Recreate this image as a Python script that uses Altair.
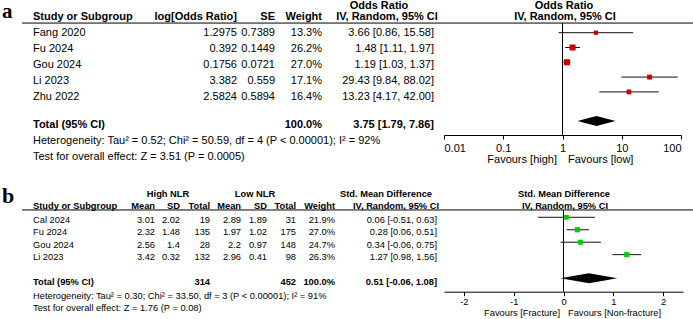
import altair as alt
import pandas as pd

FONT = "Liberation Sans"

# ---- Panel a: NLR and fracture risk (odds ratio, random effects) ----
a_study = ["Fang 2020", "Fu 2024", "Gou 2024", "Li 2023", "Zhu 2022"]
a_log_or = [1.2975, 0.392, 0.1756, 3.382, 2.5824]
a_se = [0.7389, 0.1449, 0.0721, 0.559, 0.5894]
a_weight = [13.3, 26.2, 27.0, 17.1, 16.4]
a_or = [3.66, 1.48, 1.19, 29.43, 13.23]
a_lo = [0.86, 1.11, 1.03, 9.84, 4.17]
a_hi = [15.58, 1.97, 1.37, 88.02, 42.00]
a_total = [3.75, 1.79, 7.86]
a_total_weight = 100.0
a_het = "Heterogeneity: Tau² = 0.52; Chi² = 50.59, df = 4 (P < 0.00001); I² = 92%"
a_test = "Test for overall effect: Z = 3.51 (P = 0.0005)"
a_ticks = [0.01, 0.1, 1, 10, 100]
a_favours = ["Favours [high]", "Favours [low]"]

# ---- Panel b: NLR in fracture vs non-fracture (SMD, random effects) ----
b_study = ["Cal 2024", "Fu 2024", "Gou 2024", "Li 2023"]
b_high_mean = [3.01, 2.32, 2.56, 3.42]
b_high_sd = [2.02, 1.48, 1.4, 0.32]
b_high_n = [19, 135, 28, 132]
b_low_mean = [2.89, 1.97, 2.2, 2.96]
b_low_sd = [1.89, 1.02, 0.97, 0.41]
b_low_n = [31, 175, 148, 98]
b_weight = [21.9, 27.0, 24.7, 26.3]
b_smd = [0.06, 0.28, 0.34, 1.27]
b_lo = [-0.51, 0.06, -0.06, 0.98]
b_hi = [0.63, 0.51, 0.75, 1.56]
b_total = [0.51, -0.06, 1.08]
b_total_n = [314, 452]
b_total_weight = 100.0
b_het = "Heterogeneity: Tau² = 0.30; Chi² = 33.50, df = 3 (P < 0.00001); I² = 91%"
b_test = "Test for overall effect: Z = 1.76 (P = 0.08)"
b_ticks = [-2, -1, 0, 1, 2]
b_favours = ["Favours [Fracture]", "Favours [Non-fracture]"]


def ci_label(est, lo, hi):
    return f"{est:.2f} [{lo:.2f}, {hi:.2f}]"


def num(v):
    return f"{v:g}"


def text_layer(rows, texts, x, align, yscale, size, bold=False):
    df = pd.DataFrame({"row": rows, "label": texts})
    return alt.Chart(df).mark_text(
        align=align, baseline="middle", font=FONT, fontSize=size,
        fontWeight="bold" if bold else "normal", color="#000000",
    ).encode(
        x=alt.value(x),
        y=alt.Y("row:Q", scale=yscale, axis=None),
        text="label:N",
    )


def header_rule(row, yscale):
    return alt.Chart(pd.DataFrame({"row": [row]})).mark_rule(
        color="#000000", strokeWidth=1
    ).encode(
        x=alt.value(22), x2=alt.value(693),
        y=alt.Y("row:Q", scale=yscale, axis=None),
    )


def forest(est, lo, hi, weight, total, color, xs, xa, ys, ss,
           ref, ref_top, ref_bottom, dia_row, dia_half):
    rows = list(range(len(est)))
    df = pd.DataFrame({"row": rows, "est": est, "lo": lo, "hi": hi, "w": weight})
    ref_line = alt.Chart(pd.DataFrame({"k": [0]})).mark_rule(
        color="#000000", strokeWidth=1
    ).encode(
        x=alt.XDatum(ref, type="quantitative", scale=xs, axis=xa),
        y=alt.YDatum(ref_top, type="quantitative", scale=ys, axis=None),
        y2=alt.Y2Datum(ref_bottom),
    )
    ci = alt.Chart(df).mark_rule(color="#111111", strokeWidth=1).encode(
        x=alt.X("lo:Q", scale=xs, axis=xa),
        x2="hi:Q",
        y=alt.Y("row:Q", scale=ys, axis=None),
    )
    boxes = alt.Chart(df).mark_square(color=color, opacity=1).encode(
        x=alt.X("est:Q", scale=xs, axis=xa),
        y=alt.Y("row:Q", scale=ys, axis=None),
        size=alt.Size("w:Q", scale=ss, legend=None),
    )
    t_est, t_lo, t_hi = total
    shape = [0.0, 1.0, 0.0]
    dia = pd.DataFrame({
        "x": [t_lo, t_est, t_hi],
        "y": [dia_row - dia_half * f for f in shape],
        "y2": [dia_row + dia_half * f for f in shape],
    })
    diamond = alt.Chart(dia).mark_area(color="#000000", opacity=1).encode(
        x=alt.X("x:Q", scale=xs, axis=xa),
        y=alt.Y("y:Q", scale=ys, axis=None),
        y2="y2:Q",
    )
    return alt.layer(ref_line, ci, boxes, diamond)


def axis(values, size, offset, pad):
    return alt.Axis(
        values=values, orient="bottom", offset=offset, title=None, grid=False,
        labelExpr="'' + datum.value", labelFont=FONT, labelFontSize=size,
        labelColor="#000000", labelPadding=pad, labelOverlap=False,
        tickColor="#000000", tickSize=4, domainColor="#000000",
        domainWidth=1, tickWidth=1,
    )


# ---------------- panel a ----------------
SA = 11
ya_text = alt.Scale(domain=[0, 1], range=[33.3, 49.3], zero=False, nice=False)
ya_plot = alt.Scale(domain=[0, 1], range=[32.7, 47.5], zero=False, nice=False)
xa_scale = alt.Scale(type="log", domain=[0.01, 100], range=[444, 681], nice=False)
xa_axis = axis(a_ticks, SA, -184, 3)

rows_a = list(range(len(a_study)))
A_H1, A_H2, A_RULE = -1.706, -0.99, -0.64
A_TOT, A_HET, A_TEST, A_FAV = 5.73, 6.73, 7.73, 7.92

text_a = alt.layer(
    header_rule(A_RULE, ya_text),
    text_layer([A_H1], ["Odds Ratio"], 379, "center", ya_text, SA, True),
    text_layer([A_H1], ["Odds Ratio"], 564, "center", ya_text, SA, True),
    text_layer([A_H2], ["Study or Subgroup"], 33, "left", ya_text, SA, True),
    text_layer([A_H2], ["log[Odds Ratio]"], 237, "right", ya_text, SA, True),
    text_layer([A_H2], ["SE"], 275, "right", ya_text, SA, True),
    text_layer([A_H2], ["Weight"], 322, "right", ya_text, SA, True),
    text_layer([A_H2], ["IV, Random, 95% CI"], 387, "center", ya_text, SA, True),
    text_layer([A_H2], ["IV, Random, 95% CI"], 565, "center", ya_text, SA, True),
    text_layer(rows_a, a_study, 33, "left", ya_text, SA),
    text_layer(rows_a, [num(v) for v in a_log_or], 237, "right", ya_text, SA),
    text_layer(rows_a, [num(v) for v in a_se], 275, "right", ya_text, SA),
    text_layer(rows_a, [f"{w:.1f}%" for w in a_weight], 322, "right", ya_text, SA),
    text_layer(rows_a, [ci_label(*t) for t in zip(a_or, a_lo, a_hi)], 434, "right", ya_text, SA),
    text_layer([A_TOT], ["Total (95% CI)"], 33, "left", ya_text, SA, True),
    text_layer([A_TOT], [f"{a_total_weight:.1f}%"], 322, "right", ya_text, SA, True),
    text_layer([A_TOT], [ci_label(*a_total)], 434, "right", ya_text, SA, True),
    text_layer([A_HET], [a_het], 33, "left", ya_text, SA),
    text_layer([A_TEST], [a_test], 33, "left", ya_text, SA),
    text_layer([A_FAV], [a_favours[0]], 557, "right", ya_text, SA),
    text_layer([A_FAV], [a_favours[1]], 568, "left", ya_text, SA),
)

plot_a = forest(
    a_or, a_lo, a_hi, a_weight, a_total, "#cc0000", xa_scale, xa_axis, ya_plot,
    alt.Scale(domain=[0, 30], range=[0, 42]),
    1, -0.66, 6.91, 5.97, 0.34,
)

# ---------------- panel b ----------------
SB = 9.3
yb_text = alt.Scale(domain=[0, 1], range=[220, 232.4], zero=False, nice=False)
yb_plot = alt.Scale(domain=[0, 1], range=[217.3, 229.75], zero=False, nice=False)
xb_scale = alt.Scale(domain=[-2.4, 2.4], range=[444, 683], nice=False, zero=False)
xb_axis = axis(b_ticks, SB, -27.3, 2)

rows_b = list(range(len(b_study)))
B_H1, B_H2, B_RULE = -2.12, -1.13, -0.81
B_TOT, B_HET, B_TEST, B_FAV = 5.0, 6.13, 7.07, 7.52

text_b = alt.layer(
    header_rule(B_RULE, yb_text),
    text_layer([B_H1], ["High NLR"], 168, "center", yb_text, SB, True),
    text_layer([B_H1], ["Low NLR"], 255, "center", yb_text, SB, True),
    text_layer([B_H1], ["Std. Mean Difference"], 386, "center", yb_text, SB, True),
    text_layer([B_H1], ["Std. Mean Difference"], 564, "center", yb_text, SB, True),
    text_layer([B_H2], ["Study or Subgroup"], 33, "left", yb_text, SB, True),
    text_layer([B_H2], ["Mean"], 155, "right", yb_text, SB, True),
    text_layer([B_H2], ["SD"], 180, "right", yb_text, SB, True),
    text_layer([B_H2], ["Total"], 210, "right", yb_text, SB, True),
    text_layer([B_H2], ["Mean"], 241, "right", yb_text, SB, True),
    text_layer([B_H2], ["SD"], 267, "right", yb_text, SB, True),
    text_layer([B_H2], ["Total"], 296, "right", yb_text, SB, True),
    text_layer([B_H2], ["Weight"], 335, "right", yb_text, SB, True),
    text_layer([B_H2], ["IV, Random, 95% CI"], 396, "center", yb_text, SB, True),
    text_layer([B_H2], ["IV, Random, 95% CI"], 565, "center", yb_text, SB, True),
    text_layer(rows_b, b_study, 33, "left", yb_text, SB),
    text_layer(rows_b, [num(v) for v in b_high_mean], 155, "right", yb_text, SB),
    text_layer(rows_b, [num(v) for v in b_high_sd], 180, "right", yb_text, SB),
    text_layer(rows_b, [str(v) for v in b_high_n], 210, "right", yb_text, SB),
    text_layer(rows_b, [num(v) for v in b_low_mean], 241, "right", yb_text, SB),
    text_layer(rows_b, [num(v) for v in b_low_sd], 267, "right", yb_text, SB),
    text_layer(rows_b, [str(v) for v in b_low_n], 296, "right", yb_text, SB),
    text_layer(rows_b, [f"{w:.1f}%" for w in b_weight], 335, "right", yb_text, SB),
    text_layer(rows_b, [ci_label(*t) for t in zip(b_smd, b_lo, b_hi)], 437, "right", yb_text, SB),
    text_layer([B_TOT], ["Total (95% CI)"], 33, "left", yb_text, SB, True),
    text_layer([B_TOT], [str(b_total_n[0])], 210, "right", yb_text, SB, True),
    text_layer([B_TOT], [str(b_total_n[1])], 296, "right", yb_text, SB, True),
    text_layer([B_TOT], [f"{b_total_weight:.1f}%"], 335, "right", yb_text, SB, True),
    text_layer([B_TOT], [ci_label(*b_total)], 437, "right", yb_text, SB, True),
    text_layer([B_HET], [b_het], 33, "left", yb_text, SB),
    text_layer([B_TEST], [b_test], 33, "left", yb_text, SB),
    text_layer([B_FAV], [b_favours[0]], 560, "right", yb_text, SB),
    text_layer([B_FAV], [b_favours[1]], 568, "left", yb_text, SB),
)

plot_b = forest(
    b_smd, b_lo, b_hi, b_weight, b_total, "#00cc00", xb_scale, xb_axis, yb_plot,
    alt.Scale(domain=[0, 30], range=[0, 30]),
    0, -0.59, 5.98, 4.9, 0.4,
)

# panel letters
letters = alt.layer(
    alt.Chart(pd.DataFrame({"t": ["a"]})).mark_text(
        align="left", baseline="alphabetic", font="Liberation Serif",
        fontWeight="bold", fontSize=21, color="#000000",
    ).encode(x=alt.value(2), y=alt.value(18), text="t:N"),
    alt.Chart(pd.DataFrame({"t": ["b"]})).mark_text(
        align="left", baseline="alphabetic", font="Liberation Serif",
        fontWeight="bold", fontSize=22, color="#000000",
    ).encode(x=alt.value(2), y=alt.value(203), text="t:N"),
)

chart = alt.layer(text_a, plot_a, text_b, plot_b, letters).resolve_scale(
    x="independent", y="independent", size="independent"
).properties(
    width=693, height=319,
    autosize=alt.AutoSizeParams(type="none"),
    padding=0, background="#ffffff",
).configure_view(stroke=None)

chart.save("out.html", embed_options={"renderer": "svg", "actions": False})
